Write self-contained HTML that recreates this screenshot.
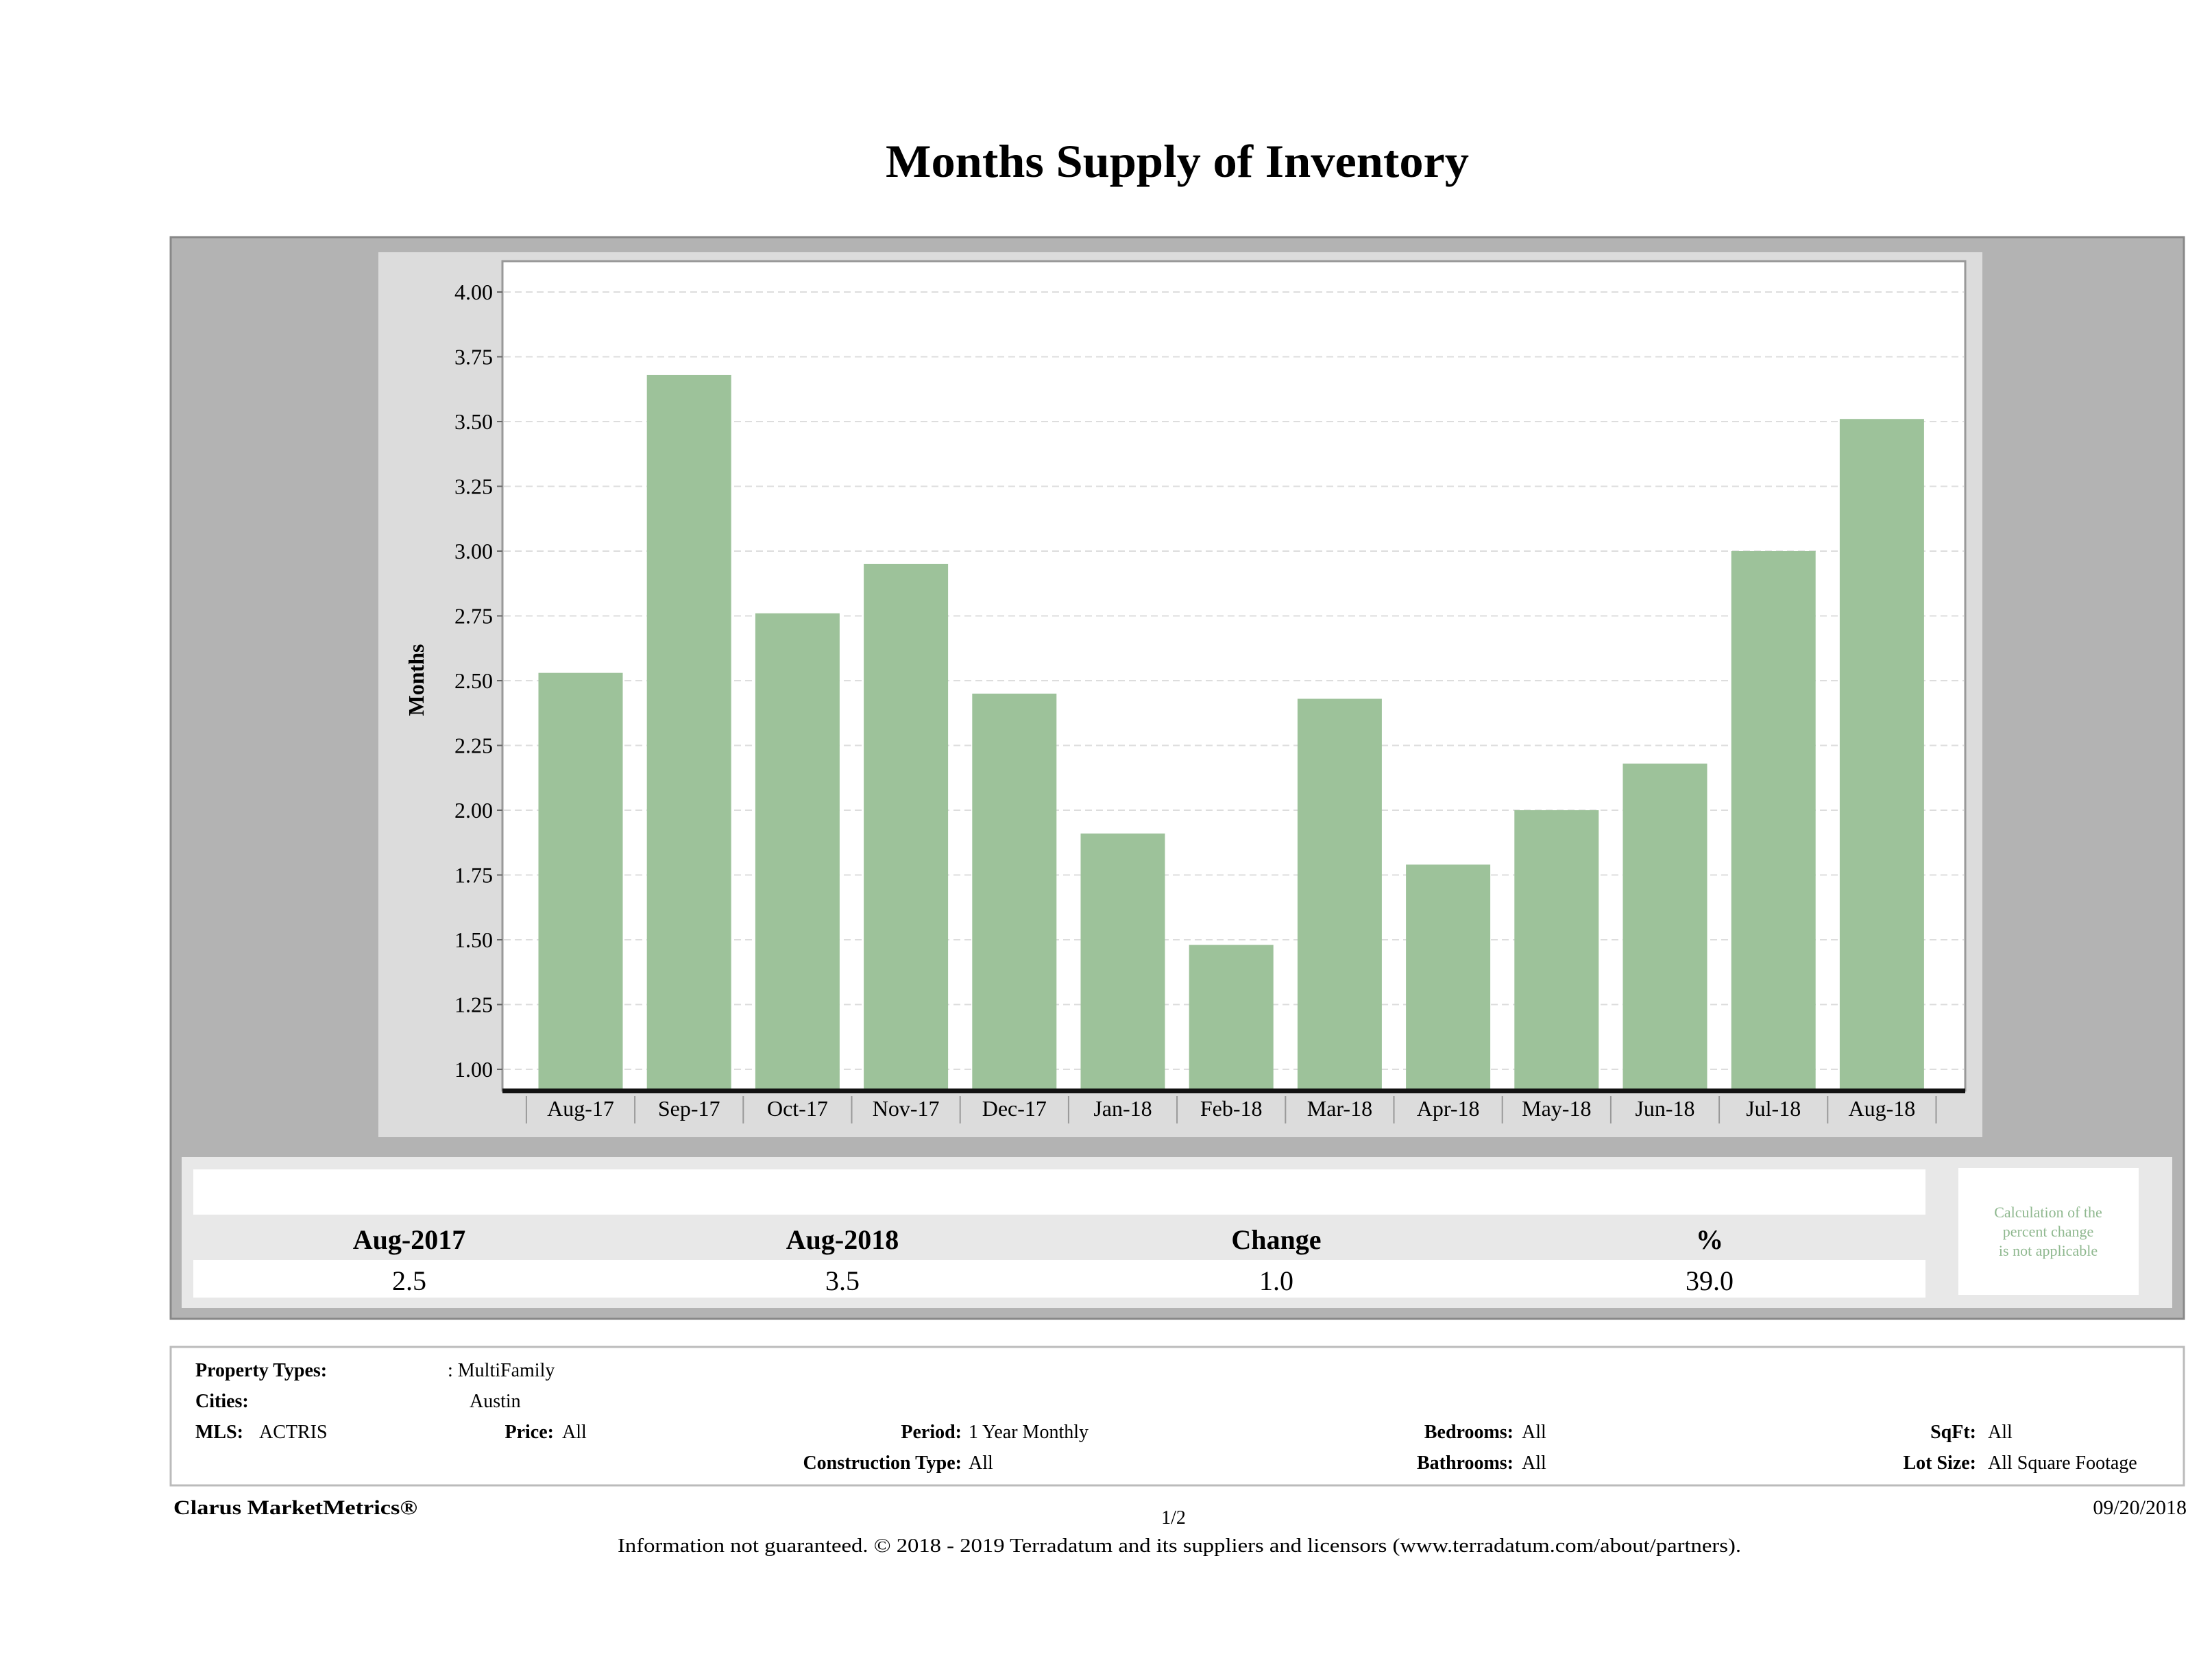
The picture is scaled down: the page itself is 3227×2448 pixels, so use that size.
<!DOCTYPE html>
<html><head><meta charset="utf-8"><style>
html,body{margin:0;padding:0;background:#fff;}
svg{display:block;font-family:"Liberation Serif",serif;}
</style></head><body>
<svg id="s" width="3227" height="2448" viewBox="0 0 3227 2448">
<text x="1292" y="258" textLength="851" lengthAdjust="spacingAndGlyphs" font-size="68" font-weight="bold">Months Supply of Inventory</text>
<rect x="249" y="346" width="2937" height="1578" fill="#b3b3b3" stroke="#888" stroke-width="3"/>
<rect x="552" y="368" width="2340" height="1291" fill="#dcdcdc"/>
<rect x="733" y="381" width="2134" height="1210" fill="#fff" stroke="#999" stroke-width="3"/>
<g id="grid"></g><g id="bars"></g><g id="xaxis"></g>
<text transform="translate(618,992) rotate(-90)" text-anchor="middle" font-size="32" font-weight="bold">Months</text>

<rect x="265" y="1688" width="2904" height="220" fill="#e8e8e8"/>
<rect x="282" y="1706" width="2527" height="66" fill="#fff"/>
<rect x="282" y="1838" width="2527" height="55" fill="#fff"/>
<g font-size="40" font-weight="bold" text-anchor="middle">
<text x="597" y="1822">Aug-2017</text>
<text x="1229" y="1822">Aug-2018</text>
<text x="1862" y="1822">Change</text>
<text x="2494" y="1822">%</text>
</g>
<g font-size="40" text-anchor="middle">
<text x="597" y="1882">2.5</text>
<text x="1229" y="1882">3.5</text>
<text x="1862" y="1882">1.0</text>
<text x="2494" y="1882">39.0</text>
</g>
<rect x="2857" y="1704" width="263" height="185" fill="#fff"/>
<g font-size="22" fill="#8fb88f" text-anchor="middle">
<text x="2988" y="1776">Calculation of the</text>
<text x="2988" y="1804">percent change</text>
<text x="2988" y="1832">is not applicable</text>
</g>

<rect x="249" y="1965" width="2937" height="202" fill="#fff" stroke="#bbb" stroke-width="3"/>
<g font-size="28">
<text x="285" y="2008" font-weight="bold">Property Types:</text>
<text x="653" y="2008">: MultiFamily</text>
<text x="285" y="2053" font-weight="bold">Cities:</text>
<text x="685" y="2053">Austin</text>
<text x="285" y="2098" font-weight="bold">MLS:</text>
<text x="378" y="2098">ACTRIS</text>
<text x="808" y="2098" font-weight="bold" text-anchor="end">Price:</text>
<text x="820" y="2098">All</text>
<text x="1403" y="2098" font-weight="bold" text-anchor="end">Period:</text>
<text x="1413" y="2098">1 Year Monthly</text>
<text x="1403" y="2143" font-weight="bold" text-anchor="end">Construction Type:</text>
<text x="1413" y="2143">All</text>
<text x="2208" y="2098" font-weight="bold" text-anchor="end">Bedrooms:</text>
<text x="2220" y="2098">All</text>
<text x="2208" y="2143" font-weight="bold" text-anchor="end">Bathrooms:</text>
<text x="2220" y="2143">All</text>
<text x="2883" y="2098" font-weight="bold" text-anchor="end">SqFt:</text>
<text x="2900" y="2098">All</text>
<text x="2883" y="2143" font-weight="bold" text-anchor="end">Lot Size:</text>
<text x="2900" y="2143">All Square Footage</text>
</g>
<text x="253" y="2209" font-size="30" font-weight="bold" textLength="356" lengthAdjust="spacingAndGlyphs">Clarus MarketMetrics®</text>
<text x="1712" y="2223" font-size="28" text-anchor="middle">1/2</text>
<text x="3190" y="2209" font-size="30" text-anchor="end">09/20/2018</text>
<text x="901" y="2264" font-size="28" textLength="1639" lengthAdjust="spacingAndGlyphs">Information not guaranteed. © 2018 - 2019 Terradatum and its suppliers and licensors (www.terradatum.com/about/partners).</text>
</svg>
<script>
const categories=["Aug-17","Sep-17","Oct-17","Nov-17","Dec-17","Jan-18","Feb-18","Mar-18","Apr-18","May-18","Jun-18","Jul-18","Aug-18"];
const monthsSupply=[2.53,3.68,2.76,2.95,2.45,1.91,1.48,2.43,1.79,2.00,2.18,3.00,3.51];
const yTicks=[1.00,1.25,1.50,1.75,2.00,2.25,2.50,2.75,3.00,3.25,3.50,3.75,4.00];
const NS="http://www.w3.org/2000/svg";
const plotL=733,plotR=2867,baseY=1591;
function y(v){return 1560-(v-1.0)*378;}
const step=158.2,firstC=847,barW=123;
function xc(i){return firstC+i*step;}
function mk(tag,attrs,parent){const e=document.createElementNS(NS,tag);for(const k in attrs)e.setAttribute(k,attrs[k]);parent.appendChild(e);return e;}
const grid=document.getElementById('grid'),bars=document.getElementById('bars'),xa=document.getElementById('xaxis');
yTicks.forEach(t=>{
  const l=mk('line',{x1:plotL+2,x2:plotR-2,y1:y(t),y2:y(t),stroke:'#ddd','stroke-width':2,'stroke-dasharray':'10,6'},grid);
  
  
  mk('line',{x1:plotL-8,x2:plotL,y1:y(t),y2:y(t),stroke:'#666','stroke-width':2},grid);
  const tx=mk('text',{x:plotL-14,y:y(t)+11,'text-anchor':'end','font-size':32},grid);
  tx.textContent=t.toFixed(2);
  
  
});
monthsSupply.forEach((v,i)=>{
  const r=mk('rect',{x:xc(i)-barW/2,y:y(v),width:barW,height:baseY-y(v),fill:'#9dc29a'},bars);
  
  
});
mk('rect',{x:plotL,y:baseY-3,width:plotR-plotL,height:7,fill:'#111'},xa);
categories.forEach((c,i)=>{
  mk('line',{x1:xc(i)-step/2,x2:xc(i)-step/2,y1:baseY+8,y2:baseY+48,stroke:'#999','stroke-width':2},xa);
  const t=mk('text',{x:xc(i),y:1628,'text-anchor':'middle','font-size':32},xa);
  t.textContent=c;
  
  
});
mk('line',{x1:xc(12)+step/2,x2:xc(12)+step/2,y1:baseY+8,y2:baseY+48,stroke:'#999','stroke-width':2},xa);
</script>
</body></html>
